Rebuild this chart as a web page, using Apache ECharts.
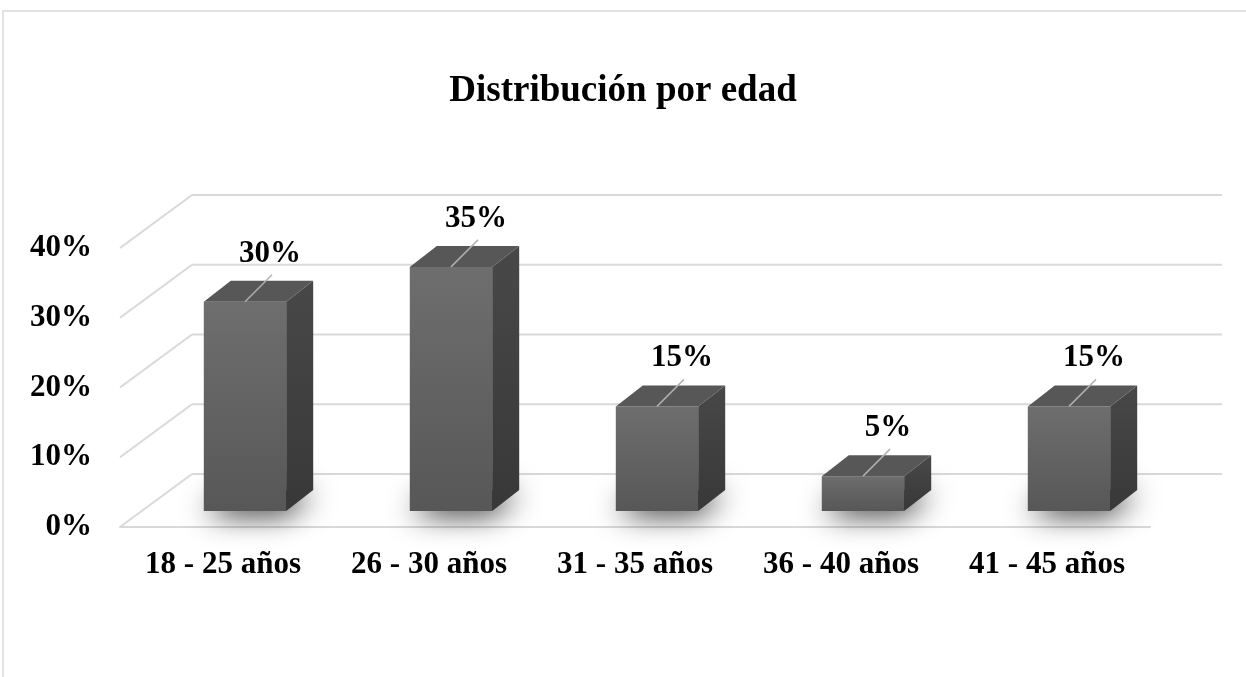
<!DOCTYPE html>
<html>
<head>
<meta charset="utf-8">
<script src="https://cdn.jsdelivr.net/npm/echarts@6/dist/echarts.min.js"></script>
<style>html,body{margin:0;padding:0;background:#fff}#main{width:1246px;height:677px}</style>
</head>
<body>
<div id="main"></div>
<script>
var categories = ['18 - 25 años', '26 - 30 años', '31 - 35 años', '36 - 40 años', '41 - 45 años'];
var values = [0.30, 0.35, 0.15, 0.05, 0.15];
var yTicks = [0, 0.1, 0.2, 0.3, 0.4];

// fake 3d: back wall offset, bar front offset, bar depth
var WALL_DX = 72, WALL_DY = -53;
var BAR_DX = 22, BAR_DY = -16;
var DEPTH_DX = 27, DEPTH_DY = -21;
var FONT = 'Liberation Serif';

function wallItem(params, api) {
	var cs = params.coordSys;
	var y = api.coord([0, api.value(1)])[1];
	var x0 = cs.x, x1 = cs.x + cs.width;
	var st = {stroke: '#d9d9d9', lineWidth: 2};
	return {
		type: 'group',
		children: [
			{type: 'line', shape: {x1: x0, y1: y, x2: x0 + WALL_DX, y2: y + WALL_DY}, style: st},
			{type: 'line', shape: {x1: x0 + WALL_DX, y1: y + WALL_DY, x2: x1 + WALL_DX, y2: y + WALL_DY}, style: st}
		]
	};
}

function barItem(params, api) {
	var i = api.value(0), v = api.value(1);
	var base = api.coord([i, 0]);
	var top = api.coord([i, v]);
	var w = api.size([1, 0])[0] * 0.4;
	var xl = base[0] + BAR_DX - w / 2, xr = xl + w;
	var yb = base[1] + BAR_DY, yt = top[1] + BAR_DY;
	var cx = (xl + xr) / 2;
	return {
		type: 'group',
		children: [
			{
				// footprint, hidden behind the faces; only its blurred shadow shows
				type: 'polygon',
				shape: {points: [[xl + 1, yb - 1], [xr, yb - 1], [xr + DEPTH_DX - 1, yb + DEPTH_DY], [xl + DEPTH_DX, yb + DEPTH_DY]]},
				style: {fill: '#3a3a3a', shadowBlur: 30, shadowColor: 'rgba(0,0,0,1)', shadowOffsetY: 3}
			},
			{
				type: 'rect',
				shape: {x: xl, y: yt, width: w, height: yb - yt},
				style: {fill: new echarts.graphic.LinearGradient(0, 0, 0, 1, [
					{offset: 0, color: '#6e6e6e'}, {offset: 1, color: '#575757'}])}
			},
			{
				type: 'polygon',
				shape: {points: [[xr, yt], [xr + DEPTH_DX, yt + DEPTH_DY], [xr + DEPTH_DX, yb + DEPTH_DY], [xr, yb]]},
				style: {fill: new echarts.graphic.LinearGradient(0, 0, 0, 1, [
					{offset: 0, color: '#484848'}, {offset: 1, color: '#383838'}])}
			},
			{
				type: 'polygon',
				shape: {points: [[xl, yt], [xr, yt], [xr + DEPTH_DX, yt + DEPTH_DY], [xl + DEPTH_DX, yt + DEPTH_DY]]},
				style: {fill: '#575757'}
			},
			{
				type: 'line',
				shape: {x1: cx, y1: yt, x2: cx + 27, y2: yt - 27},
				style: {stroke: '#b0b0b0', lineWidth: 1.5}
			},
			{
				type: 'text',
				style: {
					text: Math.round(v * 100) + '%',
					x: cx + 25, y: yt - 48,
					align: 'center', verticalAlign: 'middle',
					fill: '#000', fontFamily: FONT, fontWeight: 'bold', fontSize: 31
				}
			}
		]
	};
}

var chart = echarts.init(document.querySelector('#main'));

var option = {
	animation: false,
	backgroundColor: '#fff',
	title: {
		text: 'Distribución por edad',
		left: 'center',
		top: 68,
		textStyle: {fontFamily: FONT, fontWeight: 'bold', fontSize: 37, color: '#000'}
	},
	graphic: [
		{type: 'polyline', shape: {points: [[3, 677], [3, 11], [1246, 11]]}, style: {stroke: '#d9d9d9', lineWidth: 1.5, fill: null}}
	],
	grid: {left: 120, right: 96, top: 248, bottom: 150},
	xAxis: {
		type: 'category',
		data: categories,
		axisLine: {show: true, lineStyle: {color: '#d9d9d9', width: 2}},
		axisTick: {show: false},
		axisLabel: {margin: 22, color: '#000', fontFamily: FONT, fontWeight: 'bold', fontSize: 31}
	},
	yAxis: {
		type: 'value',
		min: 0,
		max: 0.4,
		interval: 0.1,
		axisLine: {show: false},
		axisTick: {show: false},
		splitLine: {show: false},
		axisLabel: {
			margin: 28, color: '#000', fontFamily: FONT, fontWeight: 'bold', fontSize: 31,
			formatter: function (v) { return Math.round(v * 100) + '%'; }
		}
	},
	series: [
		{
			name: 'wall',
			type: 'custom',
			clip: false,
			silent: true,
			renderItem: wallItem,
			data: yTicks.map(function (t) { return [0, t]; }),
			z: 1
		},
		{
			name: 'Distribución por edad',
			type: 'custom',
			clip: false,
			renderItem: barItem,
			data: values.map(function (v, i) { return [i, v]; }),
			z: 3
		}
	]
};

chart.setOption(option);
</script>
</body>
</html>
